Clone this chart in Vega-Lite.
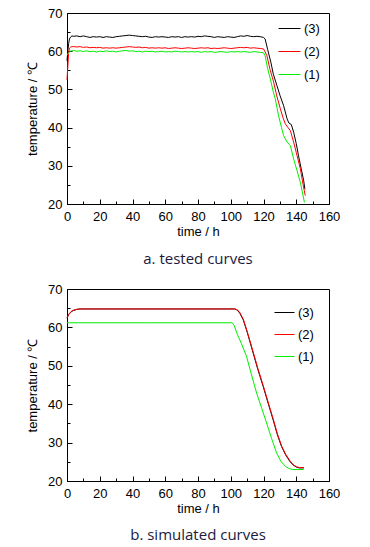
{
  "$schema": "https://vega.github.io/schema/vega-lite/v6.json",
  "background": "white",
  "padding": {"left": 26, "top": 6, "right": 5, "bottom": 5},
  "spacing": 14,
  "config": {
    "view": {"stroke": "#000", "strokeWidth": 1},
    "font": "Liberation Sans",
    "axis": {
      "domainColor": "#000", "tickColor": "#000", "labelColor": "#000", "titleColor": "#000",
      "labelFontSize": 13, "titleFontSize": 13, "titleFontWeight": "normal",
      "labelFont": "Liberation Sans", "titleFont": "Liberation Sans", "grid": false, "labelFlush": false
    },
    "legend": {"labelFont": "Liberation Sans", "labelFontSize": 13, "labelColor": "#000", "padding": 0, "rowPadding": 4, "symbolType": "stroke", "symbolStrokeWidth": 1, "labelOffset": 3},
    "title": {"orient": "bottom", "font": "Open Sans", "fontSize": 15, "fontWeight": "normal", "color": "#1a1a40"}
  },
  "resolve": {"scale": {"color": "independent"}, "legend": {"color": "independent"}},
  "datasets": {
    "tested": [
      {"curve": "(3)", "time": 0, "temperature": 57.5},
      {"curve": "(3)", "time": 0.5, "temperature": 60.0},
      {"curve": "(3)", "time": 1, "temperature": 62.0},
      {"curve": "(3)", "time": 1.5, "temperature": 63.2},
      {"curve": "(3)", "time": 2, "temperature": 63.6},
      {"curve": "(3)", "time": 3, "temperature": 64.0},
      {"curve": "(3)", "time": 4, "temperature": 63.9},
      {"curve": "(3)", "time": 6, "temperature": 64.0},
      {"curve": "(3)", "time": 8, "temperature": 63.8},
      {"curve": "(3)", "time": 10, "temperature": 64.0},
      {"curve": "(3)", "time": 12, "temperature": 63.8},
      {"curve": "(3)", "time": 14, "temperature": 63.6},
      {"curve": "(3)", "time": 16, "temperature": 63.8},
      {"curve": "(3)", "time": 18, "temperature": 63.7},
      {"curve": "(3)", "time": 20, "temperature": 63.8},
      {"curve": "(3)", "time": 22, "temperature": 63.6},
      {"curve": "(3)", "time": 24, "temperature": 63.8},
      {"curve": "(3)", "time": 26, "temperature": 63.7},
      {"curve": "(3)", "time": 28, "temperature": 63.6},
      {"curve": "(3)", "time": 30, "temperature": 63.8},
      {"curve": "(3)", "time": 32, "temperature": 63.9},
      {"curve": "(3)", "time": 34, "temperature": 64.0},
      {"curve": "(3)", "time": 36, "temperature": 64.1},
      {"curve": "(3)", "time": 38, "temperature": 64.2},
      {"curve": "(3)", "time": 40, "temperature": 64.1},
      {"curve": "(3)", "time": 42, "temperature": 64.0},
      {"curve": "(3)", "time": 44, "temperature": 63.9},
      {"curve": "(3)", "time": 46, "temperature": 63.8},
      {"curve": "(3)", "time": 48, "temperature": 63.9},
      {"curve": "(3)", "time": 50, "temperature": 63.7},
      {"curve": "(3)", "time": 52, "temperature": 63.6},
      {"curve": "(3)", "time": 54, "temperature": 63.8},
      {"curve": "(3)", "time": 56, "temperature": 63.7},
      {"curve": "(3)", "time": 58, "temperature": 63.8},
      {"curve": "(3)", "time": 60, "temperature": 63.7},
      {"curve": "(3)", "time": 62, "temperature": 63.6},
      {"curve": "(3)", "time": 64, "temperature": 63.8},
      {"curve": "(3)", "time": 66, "temperature": 63.7},
      {"curve": "(3)", "time": 68, "temperature": 63.8},
      {"curve": "(3)", "time": 70, "temperature": 63.6},
      {"curve": "(3)", "time": 72, "temperature": 63.8},
      {"curve": "(3)", "time": 74, "temperature": 63.7},
      {"curve": "(3)", "time": 76, "temperature": 63.8},
      {"curve": "(3)", "time": 78, "temperature": 63.7},
      {"curve": "(3)", "time": 80, "temperature": 63.9},
      {"curve": "(3)", "time": 82, "temperature": 63.8},
      {"curve": "(3)", "time": 84, "temperature": 64.0},
      {"curve": "(3)", "time": 86, "temperature": 63.9},
      {"curve": "(3)", "time": 88, "temperature": 63.8},
      {"curve": "(3)", "time": 90, "temperature": 63.6},
      {"curve": "(3)", "time": 92, "temperature": 63.8},
      {"curve": "(3)", "time": 94, "temperature": 63.7},
      {"curve": "(3)", "time": 96, "temperature": 63.6},
      {"curve": "(3)", "time": 98, "temperature": 63.8},
      {"curve": "(3)", "time": 100, "temperature": 63.7},
      {"curve": "(3)", "time": 102, "temperature": 63.6},
      {"curve": "(3)", "time": 104, "temperature": 63.8},
      {"curve": "(3)", "time": 106, "temperature": 64.0},
      {"curve": "(3)", "time": 108, "temperature": 63.9},
      {"curve": "(3)", "time": 110, "temperature": 64.1},
      {"curve": "(3)", "time": 112, "temperature": 63.9},
      {"curve": "(3)", "time": 114, "temperature": 63.8},
      {"curve": "(3)", "time": 116, "temperature": 63.9},
      {"curve": "(3)", "time": 118, "temperature": 63.8},
      {"curve": "(3)", "time": 120, "temperature": 63.6},
      {"curve": "(3)", "time": 121, "temperature": 63.2},
      {"curve": "(3)", "time": 122.5, "temperature": 60.5},
      {"curve": "(3)", "time": 124.5, "temperature": 57.1},
      {"curve": "(3)", "time": 126, "temperature": 54.0},
      {"curve": "(3)", "time": 128.2, "temperature": 51.0},
      {"curve": "(3)", "time": 130, "temperature": 48.5},
      {"curve": "(3)", "time": 132.3, "temperature": 45.7},
      {"curve": "(3)", "time": 134.4, "temperature": 42.3},
      {"curve": "(3)", "time": 135.5, "temperature": 41.2},
      {"curve": "(3)", "time": 137, "temperature": 40.8},
      {"curve": "(3)", "time": 138.4, "temperature": 38.8},
      {"curve": "(3)", "time": 140, "temperature": 35.8},
      {"curve": "(3)", "time": 141.4, "temperature": 32.6},
      {"curve": "(3)", "time": 143, "temperature": 29.3},
      {"curve": "(3)", "time": 144.5, "temperature": 26.2},
      {"curve": "(3)", "time": 145.3, "temperature": 23.9},
      {"curve": "(2)", "time": 0, "temperature": 52.5},
      {"curve": "(2)", "time": 0.5, "temperature": 56.0},
      {"curve": "(2)", "time": 1, "temperature": 59.5},
      {"curve": "(2)", "time": 1.5, "temperature": 60.8},
      {"curve": "(2)", "time": 2, "temperature": 61.0},
      {"curve": "(2)", "time": 3, "temperature": 61.2},
      {"curve": "(2)", "time": 4, "temperature": 61.2},
      {"curve": "(2)", "time": 6, "temperature": 61.1},
      {"curve": "(2)", "time": 8, "temperature": 61.2},
      {"curve": "(2)", "time": 10, "temperature": 61.0},
      {"curve": "(2)", "time": 12, "temperature": 61.1},
      {"curve": "(2)", "time": 14, "temperature": 60.9},
      {"curve": "(2)", "time": 16, "temperature": 61.0},
      {"curve": "(2)", "time": 18, "temperature": 60.9},
      {"curve": "(2)", "time": 20, "temperature": 61.0},
      {"curve": "(2)", "time": 22, "temperature": 60.8},
      {"curve": "(2)", "time": 24, "temperature": 60.9},
      {"curve": "(2)", "time": 26, "temperature": 60.8},
      {"curve": "(2)", "time": 28, "temperature": 60.9},
      {"curve": "(2)", "time": 30, "temperature": 60.8},
      {"curve": "(2)", "time": 32, "temperature": 60.9},
      {"curve": "(2)", "time": 34, "temperature": 61.0},
      {"curve": "(2)", "time": 36, "temperature": 61.1},
      {"curve": "(2)", "time": 38, "temperature": 61.2},
      {"curve": "(2)", "time": 40, "temperature": 61.1},
      {"curve": "(2)", "time": 42, "temperature": 61.0},
      {"curve": "(2)", "time": 44, "temperature": 61.1},
      {"curve": "(2)", "time": 46, "temperature": 60.9},
      {"curve": "(2)", "time": 48, "temperature": 61.0},
      {"curve": "(2)", "time": 50, "temperature": 60.8},
      {"curve": "(2)", "time": 52, "temperature": 60.9},
      {"curve": "(2)", "time": 54, "temperature": 60.8},
      {"curve": "(2)", "time": 56, "temperature": 60.9},
      {"curve": "(2)", "time": 58, "temperature": 60.8},
      {"curve": "(2)", "time": 60, "temperature": 60.9},
      {"curve": "(2)", "time": 62, "temperature": 60.7},
      {"curve": "(2)", "time": 64, "temperature": 60.8},
      {"curve": "(2)", "time": 66, "temperature": 60.9},
      {"curve": "(2)", "time": 68, "temperature": 60.8},
      {"curve": "(2)", "time": 70, "temperature": 60.7},
      {"curve": "(2)", "time": 72, "temperature": 60.8},
      {"curve": "(2)", "time": 74, "temperature": 60.9},
      {"curve": "(2)", "time": 76, "temperature": 60.8},
      {"curve": "(2)", "time": 78, "temperature": 60.7},
      {"curve": "(2)", "time": 80, "temperature": 60.8},
      {"curve": "(2)", "time": 82, "temperature": 60.9},
      {"curve": "(2)", "time": 84, "temperature": 60.8},
      {"curve": "(2)", "time": 86, "temperature": 60.9},
      {"curve": "(2)", "time": 88, "temperature": 60.7},
      {"curve": "(2)", "time": 90, "temperature": 60.8},
      {"curve": "(2)", "time": 92, "temperature": 60.7},
      {"curve": "(2)", "time": 94, "temperature": 60.8},
      {"curve": "(2)", "time": 96, "temperature": 60.9},
      {"curve": "(2)", "time": 98, "temperature": 60.8},
      {"curve": "(2)", "time": 100, "temperature": 60.7},
      {"curve": "(2)", "time": 102, "temperature": 60.8},
      {"curve": "(2)", "time": 104, "temperature": 60.9},
      {"curve": "(2)", "time": 106, "temperature": 61.0},
      {"curve": "(2)", "time": 108, "temperature": 60.9},
      {"curve": "(2)", "time": 110, "temperature": 61.0},
      {"curve": "(2)", "time": 112, "temperature": 60.8},
      {"curve": "(2)", "time": 114, "temperature": 60.9},
      {"curve": "(2)", "time": 116, "temperature": 60.8},
      {"curve": "(2)", "time": 118, "temperature": 60.7},
      {"curve": "(2)", "time": 120, "temperature": 60.6},
      {"curve": "(2)", "time": 121, "temperature": 59.8},
      {"curve": "(2)", "time": 122.1, "temperature": 58.8},
      {"curve": "(2)", "time": 124, "temperature": 55.2},
      {"curve": "(2)", "time": 126.2, "temperature": 51.9},
      {"curve": "(2)", "time": 128, "temperature": 48.5},
      {"curve": "(2)", "time": 130.3, "temperature": 44.9},
      {"curve": "(2)", "time": 132, "temperature": 42.5},
      {"curve": "(2)", "time": 133.3, "temperature": 41.0},
      {"curve": "(2)", "time": 135, "temperature": 40.0},
      {"curve": "(2)", "time": 136.4, "temperature": 39.2},
      {"curve": "(2)", "time": 138.4, "temperature": 36.2},
      {"curve": "(2)", "time": 140, "temperature": 33.5},
      {"curve": "(2)", "time": 142.5, "temperature": 29.2},
      {"curve": "(2)", "time": 144, "temperature": 25.5},
      {"curve": "(2)", "time": 145.5, "temperature": 22.2},
      {"curve": "(1)", "time": 0, "temperature": 59.0},
      {"curve": "(1)", "time": 0.5, "temperature": 59.3},
      {"curve": "(1)", "time": 1, "temperature": 59.6},
      {"curve": "(1)", "time": 2, "temperature": 60.0},
      {"curve": "(1)", "time": 4, "temperature": 60.2},
      {"curve": "(1)", "time": 6, "temperature": 60.0},
      {"curve": "(1)", "time": 8, "temperature": 60.1},
      {"curve": "(1)", "time": 10, "temperature": 59.9},
      {"curve": "(1)", "time": 12, "temperature": 60.1},
      {"curve": "(1)", "time": 14, "temperature": 59.9},
      {"curve": "(1)", "time": 16, "temperature": 60.0},
      {"curve": "(1)", "time": 18, "temperature": 59.8},
      {"curve": "(1)", "time": 20, "temperature": 60.0},
      {"curve": "(1)", "time": 22, "temperature": 59.9},
      {"curve": "(1)", "time": 24, "temperature": 60.1},
      {"curve": "(1)", "time": 26, "temperature": 59.9},
      {"curve": "(1)", "time": 28, "temperature": 60.0},
      {"curve": "(1)", "time": 30, "temperature": 59.8},
      {"curve": "(1)", "time": 32, "temperature": 60.0},
      {"curve": "(1)", "time": 34, "temperature": 60.1},
      {"curve": "(1)", "time": 36, "temperature": 60.2},
      {"curve": "(1)", "time": 38, "temperature": 60.0},
      {"curve": "(1)", "time": 40, "temperature": 60.1},
      {"curve": "(1)", "time": 42, "temperature": 59.9},
      {"curve": "(1)", "time": 44, "temperature": 60.0},
      {"curve": "(1)", "time": 46, "temperature": 59.8},
      {"curve": "(1)", "time": 48, "temperature": 60.0},
      {"curve": "(1)", "time": 50, "temperature": 59.9},
      {"curve": "(1)", "time": 52, "temperature": 60.0},
      {"curve": "(1)", "time": 54, "temperature": 59.8},
      {"curve": "(1)", "time": 56, "temperature": 59.9},
      {"curve": "(1)", "time": 58, "temperature": 60.0},
      {"curve": "(1)", "time": 60, "temperature": 59.8},
      {"curve": "(1)", "time": 62, "temperature": 59.9},
      {"curve": "(1)", "time": 64, "temperature": 59.8},
      {"curve": "(1)", "time": 66, "temperature": 60.0},
      {"curve": "(1)", "time": 68, "temperature": 59.9},
      {"curve": "(1)", "time": 70, "temperature": 59.8},
      {"curve": "(1)", "time": 72, "temperature": 59.9},
      {"curve": "(1)", "time": 74, "temperature": 59.8},
      {"curve": "(1)", "time": 76, "temperature": 59.9},
      {"curve": "(1)", "time": 78, "temperature": 59.8},
      {"curve": "(1)", "time": 80, "temperature": 59.9},
      {"curve": "(1)", "time": 82, "temperature": 59.7},
      {"curve": "(1)", "time": 84, "temperature": 59.9},
      {"curve": "(1)", "time": 86, "temperature": 59.8},
      {"curve": "(1)", "time": 88, "temperature": 59.9},
      {"curve": "(1)", "time": 90, "temperature": 59.7},
      {"curve": "(1)", "time": 92, "temperature": 59.8},
      {"curve": "(1)", "time": 94, "temperature": 59.9},
      {"curve": "(1)", "time": 96, "temperature": 59.8},
      {"curve": "(1)", "time": 98, "temperature": 59.7},
      {"curve": "(1)", "time": 100, "temperature": 59.9},
      {"curve": "(1)", "time": 102, "temperature": 59.8},
      {"curve": "(1)", "time": 104, "temperature": 59.9},
      {"curve": "(1)", "time": 106, "temperature": 59.8},
      {"curve": "(1)", "time": 108, "temperature": 59.9},
      {"curve": "(1)", "time": 110, "temperature": 59.8},
      {"curve": "(1)", "time": 112, "temperature": 59.7},
      {"curve": "(1)", "time": 114, "temperature": 59.9},
      {"curve": "(1)", "time": 116, "temperature": 59.8},
      {"curve": "(1)", "time": 118, "temperature": 59.7},
      {"curve": "(1)", "time": 120, "temperature": 59.6},
      {"curve": "(1)", "time": 121, "temperature": 58.8},
      {"curve": "(1)", "time": 122.5, "temperature": 55.5},
      {"curve": "(1)", "time": 124.2, "temperature": 52.7},
      {"curve": "(1)", "time": 126, "temperature": 49.3},
      {"curve": "(1)", "time": 127.2, "temperature": 47.5},
      {"curve": "(1)", "time": 129.2, "temperature": 43.1},
      {"curve": "(1)", "time": 131, "temperature": 40.0},
      {"curve": "(1)", "time": 132.3, "temperature": 37.9},
      {"curve": "(1)", "time": 134.4, "temperature": 36.2},
      {"curve": "(1)", "time": 136.4, "temperature": 35.3},
      {"curve": "(1)", "time": 138.4, "temperature": 31.8},
      {"curve": "(1)", "time": 140.5, "temperature": 28.7},
      {"curve": "(1)", "time": 142.5, "temperature": 25.7},
      {"curve": "(1)", "time": 145, "temperature": 20.4}
    ],
    "simulated": [
      {"curve": "(3)", "time": 0, "temperature": 62.4},
      {"curve": "(3)", "time": 1, "temperature": 63.3},
      {"curve": "(3)", "time": 2, "temperature": 63.8},
      {"curve": "(3)", "time": 3, "temperature": 64.2},
      {"curve": "(3)", "time": 4, "temperature": 64.4},
      {"curve": "(3)", "time": 6, "temperature": 64.7},
      {"curve": "(3)", "time": 8, "temperature": 64.8},
      {"curve": "(3)", "time": 50, "temperature": 64.8},
      {"curve": "(3)", "time": 102.5, "temperature": 64.8},
      {"curve": "(3)", "time": 104, "temperature": 64.5},
      {"curve": "(3)", "time": 105.5, "temperature": 63.7},
      {"curve": "(3)", "time": 107.6, "temperature": 62.0},
      {"curve": "(3)", "time": 110, "temperature": 58.8},
      {"curve": "(3)", "time": 113.7, "temperature": 53.3},
      {"curve": "(3)", "time": 116.5, "temperature": 49.1},
      {"curve": "(3)", "time": 119.8, "temperature": 44.6},
      {"curve": "(3)", "time": 123, "temperature": 40.0},
      {"curve": "(3)", "time": 125.9, "temperature": 35.9},
      {"curve": "(3)", "time": 128.5, "temperature": 32.0},
      {"curve": "(3)", "time": 131, "temperature": 29.0},
      {"curve": "(3)", "time": 133.5, "temperature": 26.8},
      {"curve": "(3)", "time": 136.1, "temperature": 25.1},
      {"curve": "(3)", "time": 138, "temperature": 24.2},
      {"curve": "(3)", "time": 140.2, "temperature": 23.6},
      {"curve": "(3)", "time": 142, "temperature": 23.4},
      {"curve": "(3)", "time": 144.7, "temperature": 23.4},
      {"curve": "(2)", "time": 0, "temperature": 62.5},
      {"curve": "(2)", "time": 1, "temperature": 63.4},
      {"curve": "(2)", "time": 2, "temperature": 63.9},
      {"curve": "(2)", "time": 3, "temperature": 64.3},
      {"curve": "(2)", "time": 4, "temperature": 64.5},
      {"curve": "(2)", "time": 6, "temperature": 64.7},
      {"curve": "(2)", "time": 8, "temperature": 64.8},
      {"curve": "(2)", "time": 50, "temperature": 64.8},
      {"curve": "(2)", "time": 102.5, "temperature": 64.8},
      {"curve": "(2)", "time": 104, "temperature": 64.6},
      {"curve": "(2)", "time": 105.5, "temperature": 63.9},
      {"curve": "(2)", "time": 107.6, "temperature": 62.2},
      {"curve": "(2)", "time": 110, "temperature": 59.0},
      {"curve": "(2)", "time": 113.7, "temperature": 53.6},
      {"curve": "(2)", "time": 116.5, "temperature": 49.4},
      {"curve": "(2)", "time": 119.8, "temperature": 44.9},
      {"curve": "(2)", "time": 123, "temperature": 40.3},
      {"curve": "(2)", "time": 125.9, "temperature": 36.2},
      {"curve": "(2)", "time": 128.5, "temperature": 32.3},
      {"curve": "(2)", "time": 131, "temperature": 29.2},
      {"curve": "(2)", "time": 133.5, "temperature": 27.0},
      {"curve": "(2)", "time": 136.1, "temperature": 25.3},
      {"curve": "(2)", "time": 138, "temperature": 24.3},
      {"curve": "(2)", "time": 140.2, "temperature": 23.7},
      {"curve": "(2)", "time": 142, "temperature": 23.5},
      {"curve": "(2)", "time": 144.7, "temperature": 23.5},
      {"curve": "(1)", "time": 0, "temperature": 61.2},
      {"curve": "(1)", "time": 50, "temperature": 61.2},
      {"curve": "(1)", "time": 100.9, "temperature": 61.2},
      {"curve": "(1)", "time": 102, "temperature": 60.6},
      {"curve": "(1)", "time": 104, "temperature": 58.2},
      {"curve": "(1)", "time": 106.5, "temperature": 55.8},
      {"curve": "(1)", "time": 109.6, "temperature": 52.5},
      {"curve": "(1)", "time": 112.5, "temperature": 47.9},
      {"curve": "(1)", "time": 115.8, "temperature": 42.9},
      {"curve": "(1)", "time": 119, "temperature": 38.8},
      {"curve": "(1)", "time": 121.9, "temperature": 35.1},
      {"curve": "(1)", "time": 125, "temperature": 31.0},
      {"curve": "(1)", "time": 128, "temperature": 27.3},
      {"curve": "(1)", "time": 130.5, "temperature": 25.2},
      {"curve": "(1)", "time": 132.5, "temperature": 24.2},
      {"curve": "(1)", "time": 134.1, "temperature": 23.6},
      {"curve": "(1)", "time": 136, "temperature": 23.2},
      {"curve": "(1)", "time": 137.6, "temperature": 23.0},
      {"curve": "(1)", "time": 144.5, "temperature": 23.0}
    ]
  },
  "vconcat": [
    {
      "width": 262,
      "height": 191,
      "title": {"text": "a.  tested  curves", "offset": 14},
      "data": {"name": "tested"},
      "mark": {"type": "line", "strokeWidth": 1},
      "encoding": {
        "x": {"field": "time", "type": "quantitative",
          "scale": {"domain": [0, 160], "nice": false},
          "axis": {"title": "time / h", "values": [0, 10, 20, 30, 40, 50, 60, 70, 80, 90, 100, 110, 120, 130, 140, 150, 160],
            "labelExpr": "datum.value % 20 == 0 ? datum.label : ''",
            "tickSize": {"condition": {"test": "datum.value % 20 == 0", "value": -5}, "value": -3},
            "labelPadding": 11, "titlePadding": 0, "labelOverlap": false}},
        "y": {"field": "temperature", "type": "quantitative",
          "scale": {"domain": [20, 70], "nice": false, "zero": false},
          "axis": {"title": "temperature / ℃", "values": [20, 25, 30, 35, 40, 45, 50, 55, 60, 65, 70],
            "labelExpr": "datum.value % 10 == 0 ? datum.label : ''",
            "tickSize": {"condition": {"test": "datum.value % 10 == 0", "value": -5}, "value": -3},
            "labelPadding": 10, "titlePadding": 8, "labelOverlap": false}},
        "color": {"field": "curve", "type": "nominal",
          "scale": {"domain": ["(3)", "(2)", "(1)"], "range": ["#000000", "#ff0000", "#00ee00"]},
          "legend": {"title": null, "orient": "none", "legendX": 211, "legendY": 4, "symbolSize": 484}}
      }
    },
    {
      "width": 262,
      "height": 192,
      "title": {"text": "b.  simulated  curves", "offset": 13},
      "data": {"name": "simulated"},
      "mark": {"type": "line", "strokeWidth": 1},
      "encoding": {
        "x": {"field": "time", "type": "quantitative",
          "scale": {"domain": [0, 160], "nice": false},
          "axis": {"title": "time / h", "values": [0, 10, 20, 30, 40, 50, 60, 70, 80, 90, 100, 110, 120, 130, 140, 150, 160],
            "labelExpr": "datum.value % 20 == 0 ? datum.label : ''",
            "tickSize": {"condition": {"test": "datum.value % 20 == 0", "value": -5}, "value": -3},
            "labelPadding": 11, "titlePadding": 0, "labelOverlap": false}},
        "y": {"field": "temperature", "type": "quantitative",
          "scale": {"domain": [20, 70], "nice": false, "zero": false},
          "axis": {"title": "temperature / ℃", "values": [20, 25, 30, 35, 40, 45, 50, 55, 60, 65, 70],
            "labelExpr": "datum.value % 10 == 0 ? datum.label : ''",
            "tickSize": {"condition": {"test": "datum.value % 10 == 0", "value": -5}, "value": -3},
            "labelPadding": 10, "titlePadding": 8, "labelOverlap": false}},
        "color": {"field": "curve", "type": "nominal",
          "scale": {"domain": ["(3)", "(2)", "(1)"], "range": ["#000000", "#ff0000", "#00ee00"]},
          "legend": {"title": null, "orient": "none", "legendX": 207, "legendY": 13, "symbolSize": 400}}
      }
    }
  ]
}
